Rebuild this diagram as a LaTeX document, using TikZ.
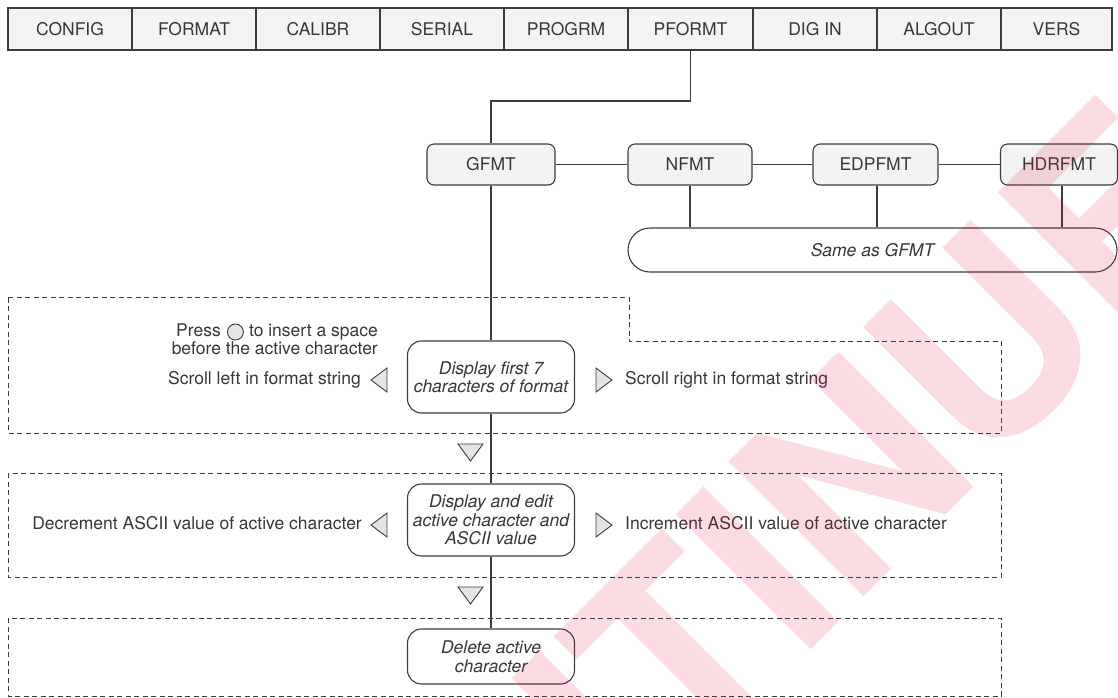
\documentclass[tikz,border=0pt]{standalone}
\usepackage{fontspec}
\setmainfont{TeX Gyre Heros}
\definecolor{txt}{RGB}{55,55,55}
\definecolor{ln}{RGB}{60,60,60}
\definecolor{tabfill}{RGB}{244,244,244}
\definecolor{boxfill}{RGB}{243,243,243}
\definecolor{trifill}{RGB}{228,228,228}
\definecolor{wmred}{RGB}{220,20,60}
\newcommand\mainfs{\fontsize{17.5}{18.5}\selectfont}
\begin{document}
\begin{tikzpicture}[x=1pt,y=-1pt,
  lbl/.style={font=\mainfs, text=txt, inner sep=0pt, text height=12.6pt, text depth=3.7pt},
  tab/.style={draw=ln, line width=1.1pt, fill=tabfill, font=\mainfs, text=txt, minimum height=42pt, inner sep=0pt},
  menubox/.style={draw=ln, line width=1.1pt, fill=boxfill, rounded corners=7pt, font=\mainfs, text=txt, minimum height=41pt, inner sep=0pt},
  stepbox/.style={draw=ln, line width=1.1pt, fill=white, rounded corners=14pt, font=\mainfs\itshape, text=txt, align=center, inner sep=0pt, minimum width=167pt},
  conn/.style={draw=ln, line width=1.1pt},
  dbox/.style={draw=ln, line width=0.9pt, dash pattern=on 5pt off 3.5pt},
  tri/.style={draw=ln, line width=0.9pt, fill=trifill, line join=miter}]

\useasboundingbox (0,0) rectangle (1118,697);

% dashed groups
\draw[dbox] (8,297) -- (629,297) -- (629,341) -- (1001,341) -- (1001,433) -- (8,433) -- cycle;
\draw[dbox] (8,473) rectangle (1001,577);
\draw[dbox] (8,618) rectangle (1001,696);

% top menu
\node[tab, minimum width=124pt] (t1) at (70,29) {CONFIG};
\node[tab, minimum width=124pt] (t2) at (194,29) {FORMAT};
\node[tab, minimum width=124pt] (t3) at (318,29) {CALIBR};
\node[tab, minimum width=124pt] (t4) at (442,29) {SERIAL};
\node[tab, minimum width=124pt] (t5) at (566,29) {PROGRM};
\node[tab, minimum width=125pt] (t6) at (690.5,29) {PFORMT};
\node[tab, minimum width=124pt] (t7) at (815,29) {DIG IN};
\node[tab, minimum width=124pt] (t8) at (939,29) {ALGOUT};
\node[tab, minimum width=111pt] (t9) at (1056.5,29) {VERS};

% second level
\node[menubox, minimum width=128pt] (gfmt) at (491,164.5) {GFMT};
\node[menubox, minimum width=124pt] (nfmt) at (690,164.5) {NFMT};
\node[menubox, minimum width=125pt] (edp) at (875.5,164.5) {EDPFMT};
\node[menubox, minimum width=117pt] (hdr) at (1059,164.5) {HDRFMT};
\node[draw=ln, line width=1.1pt, fill=white, rounded corners=22pt, minimum width=489pt, minimum height=44pt, inner sep=0pt, font=\mainfs\itshape, text=txt] (same) at (872.5,250) {Same as GFMT};

\coordinate (bend) at (690.5,101);
\draw[conn] (t6.south) -- (bend) -| (gfmt.north);
\draw[conn] (gfmt.east) -- (nfmt.west);
\draw[conn] (nfmt.east) -- (edp.west);
\draw[conn] (edp.east) -- (hdr.west);
\draw[conn] (nfmt.south) -- (nfmt.south |- same.north);
\draw[conn] ([xshift=1.5pt]edp.south) -- ([xshift=1.5pt]edp.south |- same.north);
\draw[conn] ([xshift=3pt]hdr.south) -- ([xshift=3pt]hdr.south |- same.north);

% steps
\node[stepbox, minimum height=72pt] (s1) at (491,377) {Display first 7\\characters of format};
\node[stepbox, minimum height=72pt] (s2) at (491,520) {Display and edit\\active character and\\ASCII value};
\node[stepbox, minimum height=55pt] (s3) at (491,656.5) {Delete active\\character};
\draw[conn] (gfmt.south) -- (s1.north);
\draw[conn] (s1.south) -- (s2.north);
\draw[conn] (s2.south) -- (s3.north);

% side labels, row 1
\node[lbl, anchor=east] (press2) at (378,332) {to insert a space};
\node[draw=ln, line width=0.9pt, fill=trifill, circle, minimum size=16pt, inner sep=0pt, anchor=east] (btn) at ([xshift=-5pt]press2.west) {};
\node[lbl, anchor=east] (press1) at ([xshift=-6pt]btn.west) {Press};
\node[lbl, anchor=east] (before) at (378,350) {before the active character};
\node[lbl, anchor=east] (sleft) at (361,380) {Scroll left in format string};
\node[lbl, anchor=west] (sright) at (625,380) {Scroll right in format string};
\draw[tri] (387,368) -- (387,392) -- (371,380) -- cycle;
\draw[tri] (596,368) -- (596,392) -- (612,380) -- cycle;

% row 2
\node[lbl, anchor=east] (dec) at (362,525) {Decrement ASCII value of active character};
\node[lbl, anchor=west] (inc) at (625,525) {Increment ASCII value of active character};
\draw[tri] (387,513) -- (387,537) -- (371,525) -- cycle;
\draw[tri] (596,513) -- (596,537) -- (612,525) -- cycle;

% down arrows
\draw[tri] (458,444) -- (483,444) -- (470.5,461) -- cycle;
\draw[tri] (458,587) -- (483,587) -- (470.5,604) -- cycle;

% watermark
\begin{scope}
\clip (0,0) rectangle (1118,697);
\node[rotate=45, text=wmred, text opacity=0.15, inner sep=0pt, font=\bfseries\fontsize{262}{262}\selectfont] (wm) at (604,722) {DISCONTINUED};
\end{scope}
\end{tikzpicture}
\end{document}
